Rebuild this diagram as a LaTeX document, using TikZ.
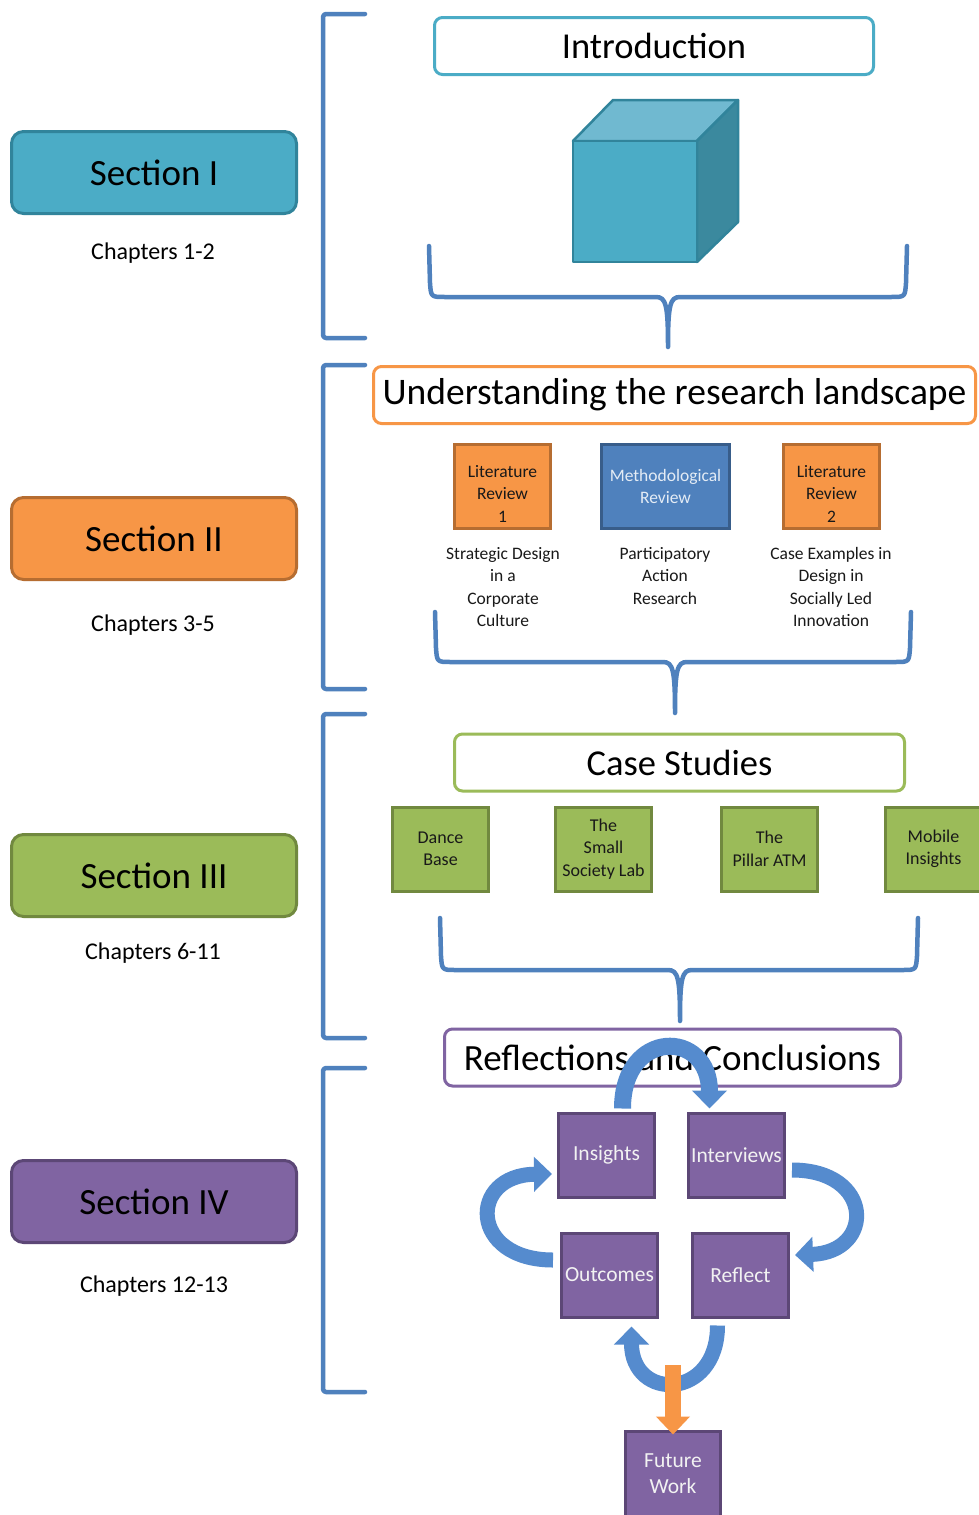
\documentclass[tikz,border=0pt]{standalone}
\usepackage{fontspec}
\setmainfont{Carlito}
\usetikzlibrary{arrows.meta}

\definecolor{aquaF}{HTML}{4BACC6}
\definecolor{aquaD}{HTML}{31849B}
\definecolor{aquaTop}{HTML}{70B9D0}
\definecolor{aquaSide}{HTML}{3B899E}
\definecolor{orangeF}{HTML}{F79646}
\definecolor{orangeD}{HTML}{B66D31}
\definecolor{greenF}{HTML}{9BBB59}
\definecolor{greenD}{HTML}{71893F}
\definecolor{purpleF}{HTML}{8064A2}
\definecolor{purpleD}{HTML}{5C4776}
\definecolor{blueF}{HTML}{4F81BD}
\definecolor{blueD}{HTML}{385D8A}
\definecolor{lineBlue}{HTML}{4F81BD}
\definecolor{ribbon}{HTML}{558BCE}
\definecolor{paleText}{HTML}{E4ECF5}

% horizontal curly brace: left x, right x, top y, bar y, tip x, tip y
\newcommand{\hbrace}[6]{%
  \draw[bracestroke] (#1,#3) -- ({#1+1},{#4-14})
    .. controls ({#1+2},#4) .. ({#1+16},#4) -- ({#5-12},#4)
    .. controls ({#5-2},#4) and (#5,{#4+8}) .. (#5,#6)
    .. controls (#5,{#4+8}) and ({#5+2},#4) .. ({#5+12},#4)
    -- ({#2-16},#4) .. controls ({#2-2},#4) .. ({#2-1},{#4-14}) -- (#2,#3);}
% square bracket on the left of each section: top y, bottom y
\newcommand{\sqbrack}[2]{%
  \draw[bracestroke, rounded corners=3pt] (365,#1) -- (323,#1) -- (323,#2) -- (365,#2);}

\begin{document}
\begin{tikzpicture}[x=1pt,y=-1pt,
  secbox/.style={draw, line width=3pt, rounded corners=12pt, minimum width=285pt,
    minimum height=82pt, inner sep=0pt, font=\fontsize{37}{44}\selectfont},
  chap/.style={inner sep=0pt, font=\fontsize{24}{29}\selectfont},
  titlebox/.style={draw, fill=white, line width=3pt, rounded corners=8pt,
    minimum height=57pt, inner sep=0pt, font=\fontsize{36.5}{44}\selectfont},
  tile/.style={draw, line width=3pt, minimum width=96pt, minimum height=84pt,
    inner sep=0pt, align=center},
  littile/.style={tile, fill=orangeF, draw=orangeD, text=black!90,
    font=\fontsize{17.5}{22.5}\selectfont},
  casetile/.style={tile, fill=greenF, draw=greenD, text=black!90,
    font=\fontsize{18}{22.5}\selectfont},
  steptile/.style={tile, fill=purpleF, draw=purpleD, text=white!95!black,
    font=\fontsize{21.5}{26}\selectfont},
  caption/.style={inner sep=0pt, align=center, text=black!90,
    font=\fontsize{17.5}{22.3}\selectfont},
  bracestroke/.style={draw=lineBlue, line width=4.5pt, line join=round, line cap=round},
  loop/.style={draw=ribbon, line width=16pt,
    -{Triangle[width=34pt,length=18pt]}},
  outflow/.style={draw=orangeF, line width=16pt,
    -{Triangle[width=33pt,length=18pt]}}
]
\useasboundingbox[fill=white] (0,0) rectangle (978,1515);

% ---- left column: sections and chapter ranges
\node[secbox, fill=aquaF, draw=aquaD] (s1) at (154,172.5) {Section I};
\node[chap] (c1) at (153,253) {Chapters 1-2};
\node[secbox, fill=orangeF, draw=orangeD] (s2) at (154,538.5) {Section II};
\node[chap] (c2) at (153,625) {Chapters 3-5};
\node[secbox, fill=greenF, draw=greenD] (s3) at (154,875.5) {Section III};
\node[chap] (c3) at (153,953) {Chapters 6-11};
\node[secbox, fill=purpleF, draw=purpleD] (s4) at (154,1201.5) {Section IV};
\node[chap] (c4) at (154,1286) {Chapters 12-13};

% ---- square brackets
\sqbrack{14}{338}
\sqbrack{365}{689}
\sqbrack{714}{1038}
\sqbrack{1068}{1392}

% ---- section I: introduction and cube
\node[titlebox, draw=aquaF, minimum width=439pt] (intro) at (654,46) {Introduction};
\filldraw[fill=aquaTop, draw=aquaD, line width=2.5pt, line join=round]
  (573,141) -- (613,100) -- (738,100) -- (697,141) -- cycle;
\filldraw[fill=aquaSide, draw=aquaD, line width=2.5pt, line join=round]
  (697,141) -- (738,100) -- (738,222) -- (697,262) -- cycle;
\filldraw[fill=aquaF, draw=aquaD, line width=2.5pt, line join=round]
  (573,141) rectangle (697,262);
\hbrace{429}{907}{246}{297}{668}{347}

% ---- section II: research landscape
\node[titlebox, draw=orangeF, minimum width=602pt, font=\fontsize{37.5}{45}\selectfont] (land) at (674.5,395)
  {Understanding the research landscape};
\node[littile, label={[caption, font=\fontsize{17.5}{22.5}\selectfont, yshift=-7pt]center:Literature\\Review\\1}] (lr1) at (502.5,486.5) {};
\node[tile, fill=blueF, draw=blueD, minimum width=128pt, text=paleText,
  font=\fontsize{17.5}{22.5}\selectfont] (meth) at (665.5,486.5) {Methodological\\Review};
\node[littile, label={[caption, font=\fontsize{17.5}{22.5}\selectfont, yshift=-7pt]center:Literature\\Review\\2}] (lr2) at (831.5,486.5) {};
\node[caption] (lr1c) at (503,587) {Strategic Design\\in a\\Corporate\\Culture};
\node[caption] (methc) at (665,576) {Participatory\\Action\\Research};
\node[caption] (lr2c) at (831,587) {Case Examples in\\Design in\\Socially Led\\Innovation};
\hbrace{435}{911}{612}{662}{675}{713}

% ---- section III: case studies
\node[titlebox, draw=greenF, minimum width=450pt] (cases) at (679.5,762.5) {Case Studies};
\node[casetile] (dance) at (440.5,849) {Dance\\Base};
\node[casetile] (ssl) at (603.5,849) {The\\Small\\Society Lab};
\node[casetile] (atm) at (769.5,849) {The\\Pillar ATM};
\node[casetile] (mobile) at (933.5,849) {Mobile\\Insights};
\hbrace{440}{918}{918}{970}{680}{1021}

% ---- section IV: reflections cycle
\node[titlebox, draw=purpleF, minimum width=456pt, font=\fontsize{37}{44}\selectfont] (refl) at (672.5,1057.5)
  {Reflections and Conclusions};
\node[steptile] (ins) at (606.5,1155) {Insights};
\node[steptile] (intv) at (736.5,1155) {Interviews};
\node[steptile] (outc) at (609.5,1275) {Outcomes};
\node[steptile] (refl4) at (740.5,1275) {Reflect};
\node[steptile, minimum width=95pt, minimum height=86pt] (fw) at (673,1474) {Future\\Work};

\draw[loop, line width=17pt] ([shift={(16,-3)}]ins.north) .. controls +(0,-80) and +(0,-80)
  .. ([shift={(-27,-3)}]intv.north);
\draw[loop, line width=15pt] ([shift={(6,15)}]intv.east) .. controls +(82,0) and +(80,-3)
  .. ([shift={(5,-20)}]refl4.east);
\draw[loop, line width=15pt] ([shift={(-7,-15)}]outc.west) .. controls +(-84,0) and +(-84,1)
  .. ([shift={(-5,19)}]ins.west);
\draw[loop, line width=15pt] ([shift={(-23,7)}]refl4.south) .. controls +(0,75) and +(0,75)
  .. ([shift={(22,8)}]outc.south);
\coordinate (fwsrc) at (673,1365);
\draw[outflow] (fwsrc) -- ([yshift=-5pt]fw.north);
\end{tikzpicture}
\end{document}
